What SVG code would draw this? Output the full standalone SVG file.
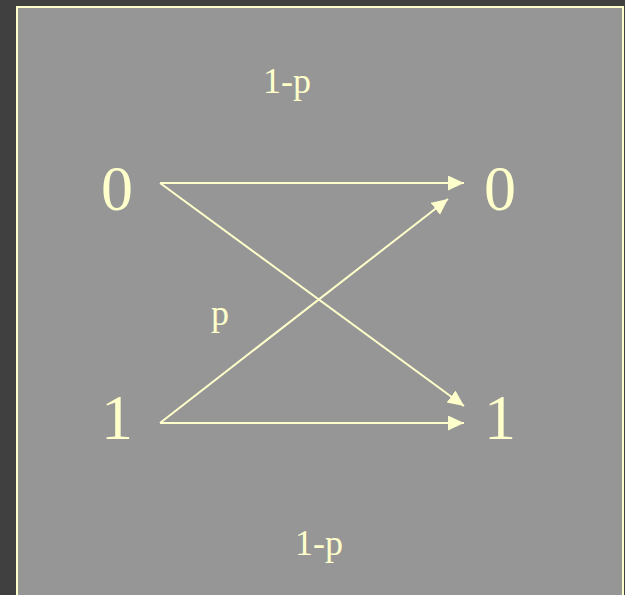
<svg xmlns="http://www.w3.org/2000/svg" width="625" height="595" viewBox="0 0 625 595">
  <style>
    .node text { font-family: "Liberation Serif", "Times New Roman", serif; fill: #FFFFCC; font-size: 64px; text-anchor: middle; }
    .lbl { font-family: "Liberation Serif", "Times New Roman", serif; fill: #FFFFCC; font-size: 36px; }
    .edge { stroke: #FFFFCC; stroke-width: 2; fill: none; }
  </style>
  <defs>
    <marker id="arr" markerUnits="userSpaceOnUse" markerWidth="17" markerHeight="16" refX="16" refY="7.5" orient="auto">
      <path d="M0,0 L16,7.5 L0,15 z" fill="#FFFFCC"/>
    </marker>
  </defs>
  <rect x="0" y="0" width="625" height="595" fill="#404040"/>
  <rect x="17" y="7" width="606" height="600" fill="#969696" stroke="#FFFFCC" stroke-width="2"/>
  <g id="connectors">
    <line class="edge" x1="160" y1="183" x2="464" y2="183" marker-end="url(#arr)"/>
    <line class="edge" x1="160" y1="183" x2="464" y2="406" marker-end="url(#arr)"/>
    <line class="edge" x1="160" y1="423" x2="448" y2="199" marker-end="url(#arr)"/>
    <line class="edge" x1="160" y1="423" x2="464" y2="423" marker-end="url(#arr)"/>
  </g>
  <g id="in0" class="node"><text x="117" y="210">0</text></g>
  <g id="in1" class="node"><text x="117" y="439">1</text></g>
  <g id="out0" class="node"><text x="500" y="210">0</text></g>
  <g id="out1" class="node"><text x="500" y="439">1</text></g>
  <g id="labels">
    <text class="lbl" x="263" y="93">1-p</text>
    <text class="lbl" x="211" y="325">p</text>
    <text class="lbl" x="295" y="555">1-p</text>
  </g>
</svg>
